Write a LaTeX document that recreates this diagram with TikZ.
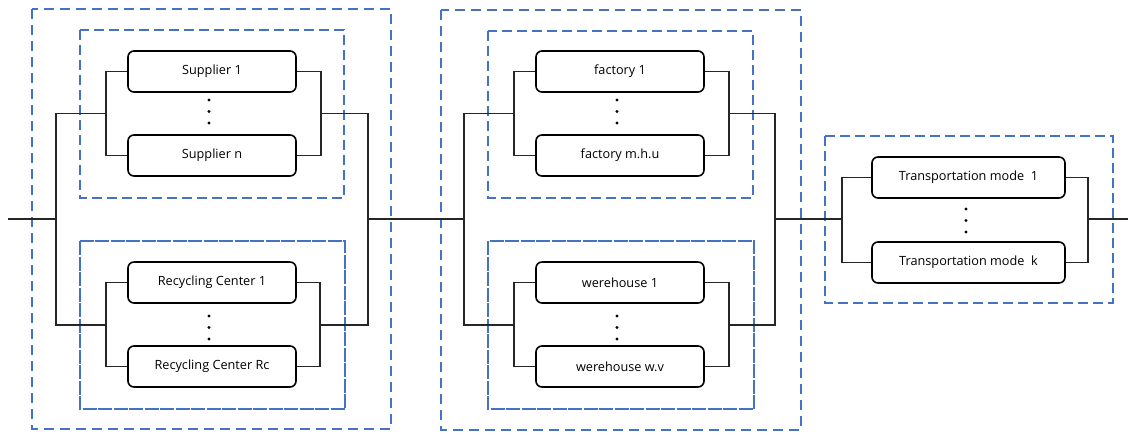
\documentclass[tikz,border=0pt]{standalone}
\usepackage{fontspec}
\setmainfont{Open Sans}
\definecolor{dashblue}{HTML}{4472C4}
\tikzset{
  unit/.style={draw, line width=1.6pt, rounded corners=6pt, minimum width=168pt,
    minimum height=41pt, inner sep=0pt, font=\fontsize{12.7}{15}\selectfont},
  wideunit/.style={unit, minimum width=193pt},
  wire/.style={line width=1.2pt, black!85},
  outerbox/.style={draw=dashblue, line width=1.6pt, dash pattern=on 10pt off 6pt},
  groupbox/.style={draw=dashblue, line width=1.6pt, dash pattern=on 10pt off 5pt},
  tightbox/.style={draw=dashblue, line width=1.6pt, dash pattern=on 14pt off 1.5pt},
  dotmark/.style={black}
}
\begin{document}
\begin{tikzpicture}[x=1pt, y=-1pt]
\useasboundingbox (0,0) rectangle (1128,436);

% dashed group frames
\draw[outerbox] (32,9) rectangle (391,429);
\draw[groupbox] (80,30) rectangle (344,198);
\draw[tightbox] (80,241) rectangle (345,409);
\draw[outerbox] (441,10) rectangle (801,430);
\draw[groupbox] (488,31) rectangle (753,198);
\draw[tightbox] (488,241) rectangle (754,409);
\draw[groupbox] (825,136) rectangle (1113,303);

% units
\node[unit] (s1) at (212,71.5) {Supplier 1};
\node[unit] (sn) at (212,155.5) {Supplier n};
\node[unit] (r1) at (212,282.5) {Recycling Center 1};
\node[unit] (rn) at (212,366.5) {Recycling Center Rc};
\node[unit] (f1) at (620,71.5) {factory 1};
\node[unit] (fn) at (620,155.5) {factory m.h.u};
\node[unit] (w1) at (620,282.5) {werehouse 1};
\node[unit] (wn) at (620,366.5) {werehouse w.v};
\node[wideunit] (t1) at (968.5,177.5) {Transportation mode\ \ 1};
\node[wideunit] (tk) at (968.5,262.5) {Transportation mode\ \ k};

% ellipsis dots
\foreach \x/\y in {209/100, 209/316, 617/100, 617/316, 966/209} {
  \fill[dotmark] (\x,\y) circle (1.6pt);
  \fill[dotmark] (\x,\y+11.5) circle (1.6pt);
  \fill[dotmark] (\x,\y+23) circle (1.6pt);
}

% junction points
\coordinate (in) at (8,219);
\coordinate (a) at (56,219);
\coordinate (sL) at (106,113.5);
\coordinate (sR) at (321,113.5);
\coordinate (rL) at (106,325);
\coordinate (rR) at (320,325);
\coordinate (b) at (368,219);
\coordinate (c) at (464,219);
\coordinate (fL) at (514,113.5);
\coordinate (fR) at (729,113.5);
\coordinate (wL) at (514,325);
\coordinate (wR) at (729,325);
\coordinate (d) at (775,219);
\coordinate (tL) at (842,219);
\coordinate (tR) at (1088,219);
\coordinate (out) at (1128,219);

% first stage: suppliers and recycling centres
\draw[wire] (s1.west) -| (sL) |- (sn.west);
\draw[wire] (s1.east) -| (sR) |- (sn.east);
\draw[wire] (r1.west) -| (rL) |- (rn.west);
\draw[wire] (r1.east) -| (rR) |- (rn.east);
\draw[wire] (sL) -| (a) |- (rL);
\draw[wire] (sR) -| (b) |- (rR);
\draw[wire] (in) -- (a);

% second stage: factories and warehouses
\draw[wire] (f1.west) -| (fL) |- (fn.west);
\draw[wire] (f1.east) -| (fR) |- (fn.east);
\draw[wire] (w1.west) -| (wL) |- (wn.west);
\draw[wire] (w1.east) -| (wR) |- (wn.east);
\draw[wire] (fL) -| (c) |- (wL);
\draw[wire, line width=1.7pt] (fR) -| (d) |- (wR);
\draw[wire] (b) -- (c);

% third stage: transportation modes
\draw[wire] (t1.west) -| (tL) |- (tk.west);
\draw[wire] (t1.east) -| (tR) |- (tk.east);
\draw[wire, line width=1.7pt] (d) -- (tL);
\draw[wire, line width=1.7pt] (tR) -- (out);
\end{tikzpicture}
\end{document}
